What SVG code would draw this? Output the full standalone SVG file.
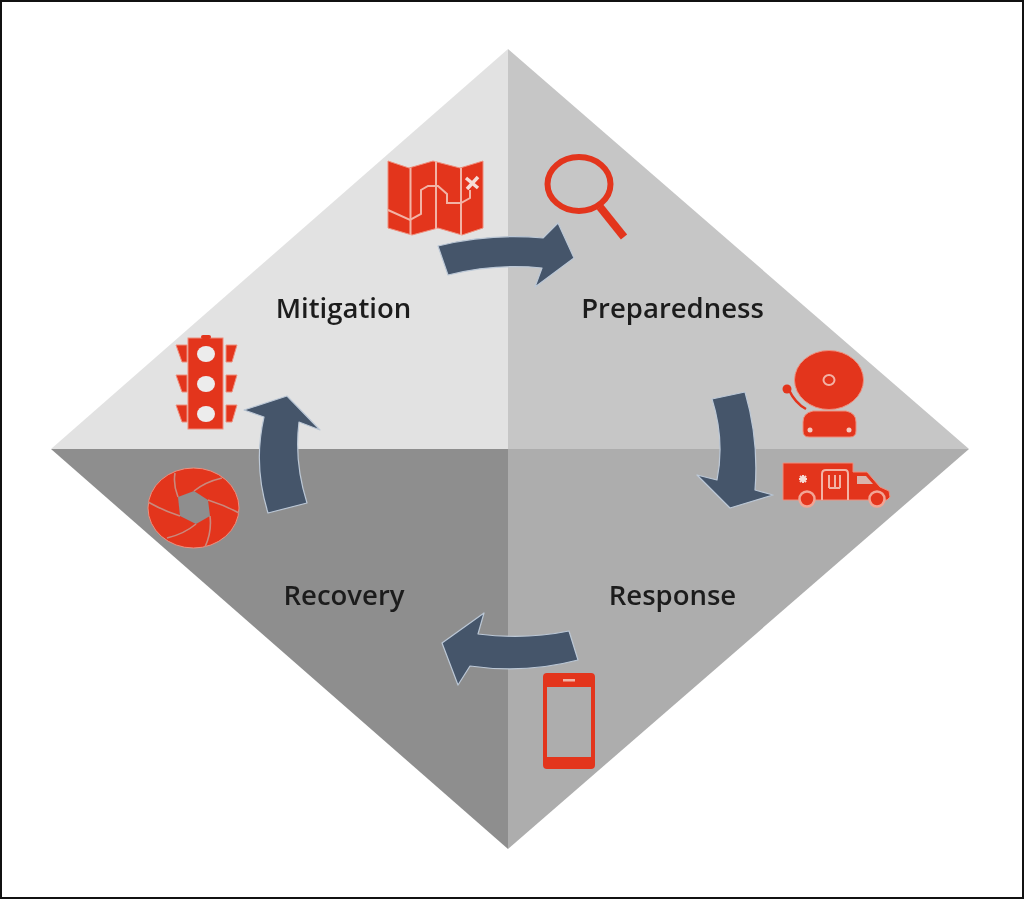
<svg xmlns="http://www.w3.org/2000/svg" width="1024" height="899" viewBox="0 0 1024 899">
<defs>
<filter id="soft" x="-5%" y="-5%" width="110%" height="110%"><feGaussianBlur stdDeviation="0.6"/></filter>
<style>
.lbl{font-family:"Open Sans","Liberation Sans",sans-serif;font-weight:600;font-size:27.5px;fill:#1c1c1c;text-anchor:middle}
.arrow{fill:#44546a;stroke:#bcc8d6;stroke-width:1.2;stroke-linejoin:round}
.ic{fill:#e3341f;stroke:#ee8f7c;stroke-width:1}
.ln{fill:none;stroke:#f2b3a5;stroke-width:2}
.blade{fill:none;stroke:#c98a7c;stroke-width:1.6}
</style>
</defs>
<rect width="1024" height="899" fill="#fff"/>
<rect x="1" y="1" width="1022" height="897" fill="none" stroke="#111" stroke-width="2"/>
<g id="diamond" filter="url(#soft)">
<polygon points="508,49 508,449 51,449" fill="#e2e2e2"/>
<polygon points="508,49 969,449 508,449" fill="#c6c6c6"/>
<polygon points="969,449 508,849 508,449" fill="#adadad"/>
<polygon points="51,449 508,449 508,849" fill="#8e8e8e"/>
</g>
<g id="connectors" filter="url(#soft)">
<path class="arrow" d="M438,246 Q490,233 543,238 L558,223 L574,258 L535,287 L542,268 Q495,263 448,275 Z"/>
<path class="arrow" d="M712,399 L745,392 Q759,440 755,490 L773,495 L730,508 L697,475 L717,480 Q725,440 712,399 Z"/>
<path class="arrow" d="M569,631 L578,660 Q525,674 470,666 L458,685 L442,643 L484,613 L478,634 Q525,640 569,631 Z"/>
<path class="arrow" d="M268,513 L307,503 Q294,462 299,422 L320,430 L287,396 L244,410 L264,417 Q253,465 268,513 Z"/>
</g>
<g id="mitigation" filter="url(#soft)">
<text class="lbl" x="343.500" y="318">Mitigation</text>
<g id="icon-map">
<polygon class="ic" points="388,161 409,168 433,161 460,168 483,161 483,228 462,235 438,228 412,235 388,228"/>
<path class="ln" stroke-width="2.600" d="M410.500,168 V235 M436,161 V229 M461,168 V235"/>
<path class="ln" d="M388,210 L410,220 L421,214 V190 L428,186 H438 L447,194 V203 H461 L470,198 V190"/>
<path d="M466,178 L478,188 M478,177 L467,189" stroke="#f6dcd6" stroke-width="3.500" fill="none"/>
</g>
</g>
<g id="preparedness" filter="url(#soft)">
<text class="lbl" x="672.500" y="318">Preparedness</text>
<g id="icon-magnifier">
<ellipse cx="579" cy="184" rx="31.500" ry="27" fill="none" stroke="#e3341f" stroke-width="6"/>
<line x1="600" y1="207" x2="624" y2="237" stroke="#e3341f" stroke-width="8"/>
</g>
<g id="icon-bell">
<path class="ic" d="M813,411 H846 Q856,413 856,422 V431 Q856,437 850,437 H809 Q803,437 803,431 V422 Q803,413 813,411 Z"/>
<ellipse class="ic" cx="829" cy="380" rx="34.500" ry="29.500"/>
<ellipse cx="829" cy="380" rx="5.500" ry="5" fill="none" stroke="#f2b3a5" stroke-width="2"/>
<path d="M789,390 Q795,403 806,409" stroke="#e3341f" stroke-width="2.500" fill="none"/>
<circle cx="787" cy="389" r="4.500" fill="#e3341f"/>
<circle cx="810" cy="430" r="2.500" fill="#f6c9bf"/><circle cx="849" cy="430" r="2.500" fill="#f6c9bf"/>
</g>
</g>
<g id="response" filter="url(#soft)">
<text class="lbl" x="672.500" y="605">Response</text>
<g id="icon-ambulance">
<path class="ic" d="M783,463 H853 V472 H867 L880,487 L889,491 L890,497 L887,500 H783 Z"/>
<path class="ln" d="M822,500 V474 Q822,470 826,470 H845 Q848,470 848,474 V500"/>
<path class="ln" stroke-width="1.500" d="M829,475 V488 M835,475 V488 M840,475 V488 M829,488 H840"/>
<path d="M857,476 H866 L873,484 H857 Z" fill="#d9b4ac"/>
<path d="M799,479 H807 M803,475 V483 M800,476 L806,482 M806,476 L800,482" stroke="#f6dcd6" stroke-width="2" fill="none"/>
<circle cx="807" cy="499" r="7.500" fill="#e3341f" stroke="#f2a594" stroke-width="2.500"/>
<circle cx="877" cy="499" r="7.500" fill="#e3341f" stroke="#f2a594" stroke-width="2.500"/>
</g>
<g id="icon-phone">
<path d="M547,673 H591 Q595,673 595,677 V765 Q595,769 591,769 H547 Q543,769 543,765 V677 Q543,673 547,673 Z M547,687 V757 H591 V687 Z" fill="#e3341f" fill-rule="evenodd"/>
<rect x="563" y="679" width="12" height="2.500" fill="#f2b3a5"/>
</g>
</g>
<g id="recovery" filter="url(#soft)">
<text class="lbl" x="344" y="605">Recovery</text>
<g id="icon-shutter">
<ellipse class="ic" cx="193.500" cy="508" rx="45.500" ry="40"/>
<polygon points="178,497 194,491 208,500 210,516 196,524 180,516" fill="#8e8e8e"/>
<path class="blade" d="M175,473 Q173,485 178,497 M222,478 Q205,482 194,491 M239,513 Q224,505 208,500 M205,547 Q212,532 210,516 M167,538 Q184,534 196,524 M148,502 Q164,511 180,516"/>
</g>
<g id="icon-traffic">
<rect class="ic" x="188" y="338" width="35" height="91"/>
<rect x="201" y="335" width="10" height="4" rx="2" fill="#e3341f"/>
<path class="ic" d="M176,345 H187 V362 H182 Z M176,375 H187 V392 H182 Z M176,405 H187 V422 H182 Z M237,345 H226 V362 H232 Z M237,375 H226 V392 H232 Z M237,405 H226 V422 H232 Z"/>
<ellipse cx="206" cy="354" rx="9" ry="8" fill="#ececec"/>
<ellipse cx="206" cy="384" rx="9" ry="8" fill="#ececec"/>
<ellipse cx="206" cy="414" rx="9" ry="8" fill="#ececec"/>
</g>
</g>
</svg>
